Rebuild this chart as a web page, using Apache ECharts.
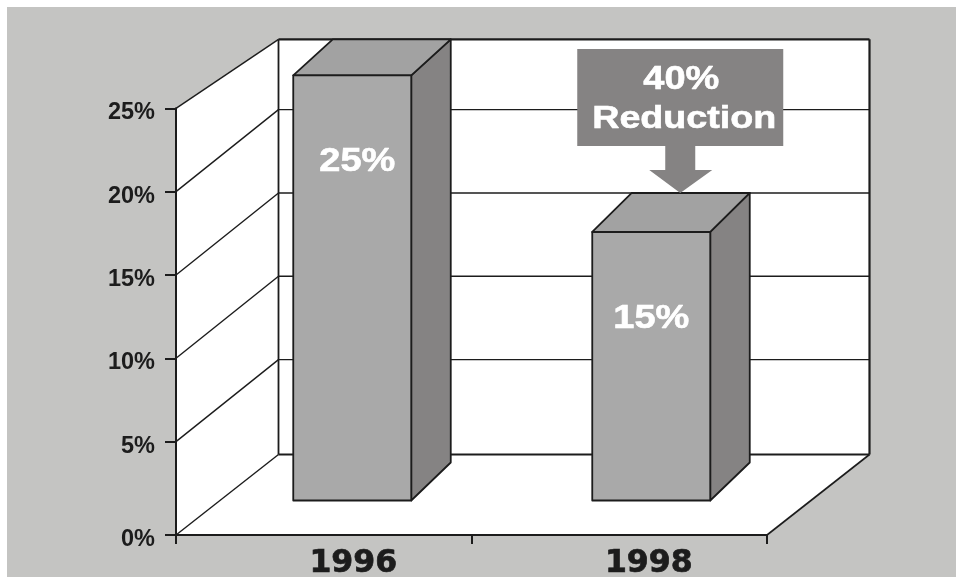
<!DOCTYPE html>
<html><head><meta charset="utf-8">
<style>html,body{margin:0;padding:0;background:#fff}#c{width:956px;height:577px}</style>
<script src="https://cdn.jsdelivr.net/npm/echarts@6/dist/echarts.min.js"></script>
</head><body><div id="c"></div>
<script>
const categories = ['1996', '1998'];
const reductionValues = [25, 15];
const yTicks = [0, 5, 10, 15, 20, 25];
const calloutLines = ['40%', 'Reduction'];

// frame / projection constants (style, not data)
const FLOOR = -0.6, INK = '#1c1c1c', BG = '#c4c4c2';
const DEPTH_X = 102.5;
const rise = v => v <= 0 ? 80.5 : (v >= 25 ? 69 : 82);
const yPos = v => v === 0 ? FLOOR : v;
const BAR_W = 118, BAR_DX = 39.5, BAR_SHIFT = [28.5, 32], TOP_DROP = [36, 39], LABEL_NUDGE = [5, 0];
const BASE_LIFT = 34.5, BASE_RISE = 38;

const line = (x1, y1, x2, y2, w) => ({type: 'line', shape: {x1, y1, x2, y2}, style: {stroke: INK, lineWidth: w || 1.5}});
const poly = (points, fill, stroke) => ({type: 'polygon', shape: {points}, style: {fill, stroke: stroke ? INK : null, lineWidth: 1.8, lineJoin: 'round'}});
const stretched = (text, x, y, size, sx, fill) => ({type: 'text', x, y, scaleX: sx, style: {text, x: 0, y: 0, fill, stroke: fill, lineWidth: 0.6, align: 'center', verticalAlign: 'middle', font: 'bold ' + size + 'px "Liberation Sans"'}});

function renderFrame(params, api) {
  const ch = [];
  const x0 = api.coord([0, 0])[0] - (api.size([1, 0])[0]) / 2;
  const x1 = x0 + api.size([1, 0])[0] * 2;
  const y = v => api.coord([0, yPos(v)])[1];
  const top = yTicks[yTicks.length - 1], bx0 = x0 + DEPTH_X, bx1 = x1 + DEPTH_X;
  ch.push(poly([[x0, y(0)], [x1, y(0)], [bx1, y(0) - rise(0)], [bx0, y(0) - rise(0)]], '#fff'));
  ch.push(poly([[x0, y(top)], [bx0, y(top) - rise(top)], [bx0, y(0) - rise(0)], [x0, y(0)]], '#fff'));
  ch.push(poly([[bx0, y(top) - rise(top)], [bx1, y(top) - rise(top)], [bx1, y(0) - rise(0)], [bx0, y(0) - rise(0)]], '#fff'));
  yTicks.forEach(v => {
    const by = y(v) - rise(v), edge = v === 0 || v === top;
    ch.push(line(x0, y(v), bx0, by, 1.4));
    ch.push(line(bx0, by, bx1, by, edge ? 2.2 : 1.4));
  });
  ch.push(line(bx0, y(top) - rise(top), bx0, y(0) - rise(0), 1.8));
  ch.push(line(bx1, y(top) - rise(top), bx1, y(0) - rise(0), 2.2));
  ch.push(line(x1, y(0), bx1, y(0) - rise(0), 1.6));
  return {type: 'group', children: ch};
}

function renderBar(params, api) {
  const i = api.value(0), v = api.value(1), k = params.dataIndex;
  const cx = api.coord([i, v])[0] + BAR_SHIFT[k];
  const backTop = api.coord([i, v])[1] - rise(v);
  const frontTop = backTop + TOP_DROP[k];
  const frontBase = api.coord([i, FLOOR])[1] - BASE_LIFT;
  const L = cx - BAR_W / 2, R = cx + BAR_W / 2, BR = R + BAR_DX, BL = L + BAR_DX;
  return {type: 'group', children: [
    poly([[R, frontTop], [BR, backTop], [BR, frontBase - BASE_RISE], [R, frontBase]], '#858383', true),
    poly([[L, frontTop], [BL, backTop], [BR, backTop], [R, frontTop]], '#a2a2a2', true),
    poly([[L, frontTop], [R, frontTop], [R, frontBase], [L, frontBase]], '#a9a9a9', true),
    stretched(v + '%', cx + LABEL_NUDGE[k], frontTop + 86.5, 33, 1.15, '#fff')
  ]};
}

function renderCallout(params, api) {
  const i = api.value(0), v = api.value(1);
  const tx = api.coord([i, v])[0] + 61, ty = api.coord([i, v])[1] - rise(v);
  const fill = '#858383';
  return {type: 'group', children: [
    poly([[tx - 103, ty - 144], [tx + 103, ty - 144], [tx + 103, ty - 47], [tx + 15, ty - 47], [tx + 15, ty - 23],
          [tx + 32, ty - 23], [tx, ty], [tx - 31, ty - 23], [tx - 15, ty - 23], [tx - 15, ty - 47], [tx - 103, ty - 47]], fill),
    stretched(calloutLines[0], tx + 1, ty - 113, 33, 1.15, '#fff'),
    stretched(calloutLines[1], tx + 4, ty - 73.5, 31, 1.215, '#fff')
  ]};
}

const barData = reductionValues.map((v, i) => [i, v]);

const chart = echarts.init(document.getElementById('c'), null, {renderer: 'canvas'});
chart.setOption({
  animation: false,
  backgroundColor: '#fff',
  graphic: [{type: 'rect', z: -10, shape: {x: 7, y: 7, width: 949, height: 570}, style: {fill: BG}}],
  grid: {left: 176, top: 108.3, width: 591, height: 426.7, outerBoundsMode: 'none'},
  xAxis: {
    type: 'category', data: categories, z: 5,
    axisLine: {onZero: false, lineStyle: {color: INK, width: 2}},
    axisTick: {show: true, alignWithLabel: false, length: 9, lineStyle: {color: INK, width: 2}},
    axisLabel: {color: '#1c1c1c', fontFamily: 'DejaVu Sans', fontWeight: 'bold', fontSize: 31.5, margin: 13, padding: [0, 0, 0, 59],
      textBorderColor: '#1c1c1c', textBorderWidth: 0.7}
  },
  yAxis: {
    type: 'value', min: FLOOR, max: 25, z: 5,
    splitLine: {show: false},
    axisLine: {show: true, lineStyle: {color: INK, width: 2}},
    axisTick: {show: true, length: 11, customValues: yTicks.map(yPos), lineStyle: {color: INK, width: 2}},
    axisLabel: {color: '#1c1c1c', fontFamily: 'Liberation Sans', fontWeight: 'bold', fontSize: 23.5, margin: 21,
      verticalAlign: 'top', lineHeight: 9, customValues: yTicks.map(yPos), formatter: v => (v <= 0 ? 0 : v) + '%'}
  },
  series: [
    {type: 'custom', z: 1, clip: false, silent: true, renderItem: renderFrame, data: [[0, 0]], encode: {x: 0, y: 1}},
    {type: 'custom', z: 2, clip: false, silent: true, renderItem: renderBar, data: barData, encode: {x: 0, y: 1}},
    {type: 'custom', z: 3, clip: false, silent: true, renderItem: renderCallout, data: [barData[1]], encode: {x: 0, y: 1}}
  ]
});
</script></body></html>
